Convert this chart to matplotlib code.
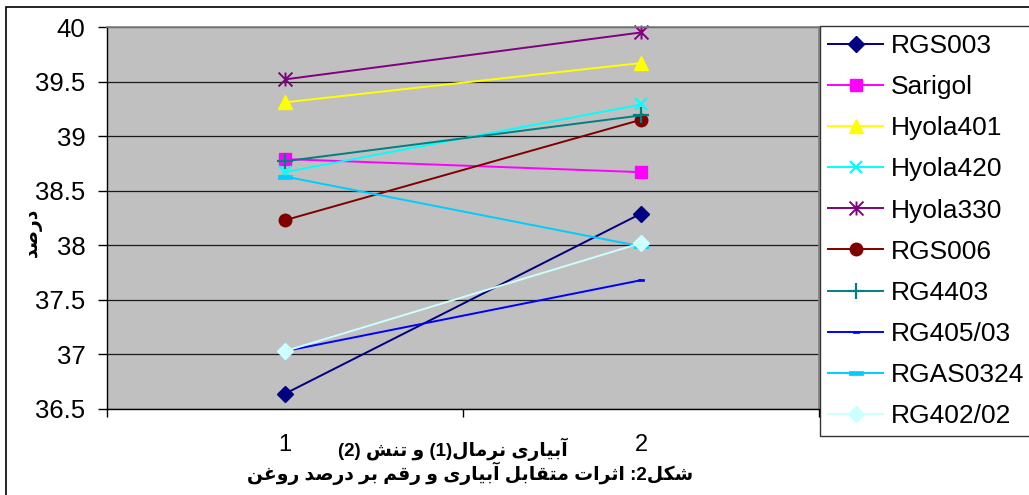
import re
import matplotlib
matplotlib.use("Agg")
import matplotlib.pyplot as plt
from matplotlib.path import Path
from matplotlib.patches import Rectangle

# ---- data ----
treatments = [1, 2]
treatment_labels = ["1", "2"]
cultivars = ["RGS003", "Sarigol", "Hyola401", "Hyola420", "Hyola330",
             "RGS006", "RG4403", "RG405/03", "RGAS0324", "RG402/02"]
rgs003 = [36.64, 38.29]
sarigol = [38.79, 38.67]
hyola401 = [39.31, 39.67]
hyola420 = [38.67, 39.29]
hyola330 = [39.52, 39.95]
rgs006 = [38.23, 39.15]
rg4403 = [38.77, 39.19]
rg405_03 = [37.03, 37.68]
rgas0324 = [38.63, 37.99]
rg402_02 = [37.03, 38.02]
y_ticks = [36.5, 37, 37.5, 38, 38.5, 39, 39.5, 40]
y_tick_labels = ["36.5", "37", "37.5", "38", "38.5", "39", "39.5", "40"]

x_title = "آبیاری نرمال(1) و تنش (2)"
y_title = "درصد"
caption = "شکل2: اثرات متقابل آبیاری و رقم بر درصد روغن"

# ---- minimal Arabic/Persian shaping (isolated, final, initial, medial) ----
FORMS = {
    "\u0622": ("\uFE81", "\uFE82", None, None),
    "\u0627": ("\uFE8D", "\uFE8E", None, None),
    "\u0628": ("\uFE8F", "\uFE90", "\uFE91", "\uFE92"),
    "\u062A": ("\uFE95", "\uFE96", "\uFE97", "\uFE98"),
    "\u062B": ("\uFE99", "\uFE9A", "\uFE9B", "\uFE9C"),
    "\u062F": ("\uFEA9", "\uFEAA", None, None),
    "\u0631": ("\uFEAD", "\uFEAE", None, None),
    "\u0634": ("\uFEB5", "\uFEB6", "\uFEB7", "\uFEB8"),
    "\u0635": ("\uFEB9", "\uFEBA", "\uFEBB", "\uFEBC"),
    "\u063A": ("\uFECD", "\uFECE", "\uFECF", "\uFED0"),
    "\u0642": ("\uFED5", "\uFED6", "\uFED7", "\uFED8"),
    "\u06A9": ("\uFB8E", "\uFB8F", "\uFB90", "\uFB91"),
    "\u0644": ("\uFEDD", "\uFEDE", "\uFEDF", "\uFEE0"),
    "\u0645": ("\uFEE1", "\uFEE2", "\uFEE3", "\uFEE4"),
    "\u0646": ("\uFEE5", "\uFEE6", "\uFEE7", "\uFEE8"),
    "\u0648": ("\uFEED", "\uFEEE", None, None),
    "\u06CC": ("\uFBFC", "\uFBFD", "\uFBFE", "\uFBFF"),
}


def rtl(text):
    out = []
    for i, ch in enumerate(text):
        if ch not in FORMS:
            out.append(ch)
            continue
        iso, fin, ini, med = FORMS[ch]
        prev = text[i - 1] if i > 0 else ""
        nxt = text[i + 1] if i + 1 < len(text) else ""
        jp = prev in FORMS and FORMS[prev][2] is not None
        jn = ini is not None and nxt in FORMS
        if jp and jn:
            out.append(med)
        elif jp:
            out.append(fin)
        elif jn:
            out.append(ini)
        else:
            out.append(iso)
    shaped = "".join(out)
    tokens = re.findall(r"\d+|\D+", shaped)
    mirror = str.maketrans("()", ")(")
    return "".join(t if t.isdigit() else t[::-1].translate(mirror)
                   for t in reversed(tokens))


# ---- markers ----
star = Path([(0, -1), (0, 1), (-1, -1), (1, 1), (-1, 1), (1, -1)],
            [Path.MOVETO, Path.LINETO] * 3)
dash = Path([(-1, -0.36), (1, -0.36), (1, 0.36), (-1, 0.36), (-1, -0.36)],
            [Path.MOVETO, Path.LINETO, Path.LINETO, Path.LINETO, Path.CLOSEPOLY])

series = [
    (rgs003, "#000080", "D", 8, 1),
    (sarigol, "#FF00FF", "s", 8, 1),
    (hyola401, "#FFFF00", "^", 10, 1),
    (hyola420, "#00FFFF", "x", 9, 1.6),
    (hyola330, "#800080", star, 10, 1.4),
    (rgs006, "#800000", "o", 9, 1),
    (rg4403, "#008080", "+", 11, 1.6),
    (rg405_03, "#0000FF", dash, 5, 0.5),
    (rgas0324, "#00CCFF", dash, 9.5, 0.5),
    (rg402_02, "#CCFFFF", "D", 8, 1),
]

plt.rcParams["font.family"] = ["Liberation Sans", "DejaVu Sans"]

W, H = 1029, 495
fig = plt.figure(figsize=(W / 100, H / 100), dpi=100)
fig.patch.set_facecolor("white")
ax = fig.add_axes([107 / W, 1 - 409 / H, (819 - 107) / W, (409 - 27) / H])
ax.set_facecolor("#C0C0C0")

for values, name, (color, mk, ms, mew) in zip(
        [s[0] for s in series], cultivars, [s[1:] for s in series]):
    ax.plot(treatments, values, color=color, lw=1.4, marker=mk, ms=ms,
            mew=mew, mec=color, mfc=color, label=name, clip_on=False)

ax.set_xlim(0.5, 2.5)
ax.set_ylim(36.5, 40)
ax.set_yticks(y_ticks)
ax.set_yticklabels(y_tick_labels)
ax.set_xticks([0.5, 1.5, 2.5])
ax.set_xticklabels([])
ax.set_xticks(treatments, minor=True)
ax.set_xticklabels(treatment_labels, minor=True)
ax.tick_params(axis="y", direction="out", length=6.5, width=1, labelsize=18.5, pad=9)
ax.tick_params(axis="x", which="major", direction="out", length=6, width=1)
ax.tick_params(axis="x", which="minor", length=0, labelsize=17, pad=18)
ax.yaxis.grid(True, color="#1a1a1a", lw=0.9)
ax.set_axisbelow(True)
for side in ("top", "right"):
    ax.spines[side].set_color("#808080")
    ax.spines[side].set_linewidth(1.2)
for side in ("left", "bottom"):
    ax.spines[side].set_color("#000000")
    ax.spines[side].set_linewidth(1)

leg = ax.legend(loc="upper left", bbox_to_anchor=(820 / W, 1 - 26 / H),
                bbox_transform=fig.transFigure, borderaxespad=0,
                fontsize=19, frameon=True, fancybox=False, edgecolor="black",
                handlelength=2.1, handletextpad=0.27, labelspacing=0.65,
                borderpad=0.3)
leg.get_frame().set_linewidth(1)

fig.text(453 / W, 1 - 449 / H, rtl(x_title), ha="center", va="center",
         fontsize=13.5, fontweight="bold")
fig.text(470 / W, 1 - 473 / H, rtl(caption), ha="center", va="center",
         fontsize=13.5, fontweight="bold")
fig.text(33 / W, 1 - 232 / H, rtl(y_title), ha="center", va="center",
         rotation=90, fontsize=13.5, fontweight="bold")

fig.patches.append(Rectangle((6 / W, -0.1), 1.2, 1.1 - 7 / H,
                             transform=fig.transFigure, fill=False,
                             edgecolor="black", lw=1.2))

fig.savefig("out.png", dpi=100)
